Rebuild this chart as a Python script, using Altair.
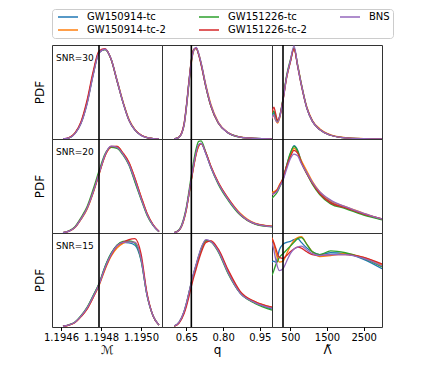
import altair as alt
import pandas as pd

SERIES = ["GW150914-tc", "GW150914-tc-2", "GW151226-tc", "GW151226-tc-2", "BNS"]
LEGEND_ORDER = ["GW150914-tc", "GW151226-tc", "BNS", "GW150914-tc-2", "GW151226-tc-2"]
LEGEND_COLORS = ["#1f77b4", "#2ca02c", "#9467bd", "#ff7f0e", "#d62728"]
SNR_LABELS = ["SNR=30", "SNR=20", "SNR=15"]

MC_GRID = [1.19461, 1.19464, 1.19467, 1.19470, 1.19473, 1.19476, 1.19479, 1.19482, 1.19485,
           1.19488, 1.19491, 1.19494, 1.19497, 1.19500, 1.19503, 1.19506, 1.19509]
Q_GRID = [0.60, 0.62, 0.64, 0.65, 0.66, 0.67, 0.68, 0.69, 0.70, 0.71, 0.73, 0.75, 0.78, 0.82, 0.87, 0.93, 1.0]
LAM_GRID = [0, 50, 100, 150, 200, 300, 400, 500, 600, 700, 800, 950, 1100, 1300, 1600, 2000, 2500, 3000]

MC_DOMAIN = [1.194555, 1.195105]
Q_DOMAIN = [0.55, 1.0]
LAM_DOMAIN = [0, 3000]
MC_TICKS = [1.1946, 1.1948, 1.1950]
Q_TICKS = [0.65, 0.80, 0.95]
LAM_TICKS = [500, 1500, 2500]
MC_TRUE = 1.19479
Q_TRUE = 0.67
LAM_TRUE = 300

# SNR = 30
S30_MC_B = [0.0, 0.012, 0.06, 0.17, 0.38, 0.68, 0.92, 0.955, 0.85, 0.62, 0.39, 0.2, 0.095, 0.04, 0.014, 0.005, 0.0]
S30_MC_O = [0.0, 0.013, 0.062, 0.175, 0.39, 0.69, 0.925, 0.955, 0.855, 0.63, 0.4, 0.21, 0.1, 0.043, 0.016, 0.005, 0.0]
S30_MC_G = [0.0, 0.012, 0.06, 0.17, 0.38, 0.68, 0.92, 0.95, 0.85, 0.62, 0.39, 0.2, 0.095, 0.04, 0.014, 0.005, 0.0]
S30_MC_R = [0.0, 0.014, 0.066, 0.185, 0.41, 0.71, 0.935, 0.96, 0.85, 0.62, 0.39, 0.2, 0.097, 0.041, 0.015, 0.005, 0.0]
S30_MC_P = [0.0, 0.011, 0.058, 0.165, 0.37, 0.67, 0.915, 0.955, 0.855, 0.625, 0.39, 0.2, 0.095, 0.039, 0.014, 0.005, 0.0]

S30_Q_B = [0.0, 0.02, 0.15, 0.35, 0.6, 0.83, 0.95, 0.97, 0.9, 0.80, 0.55, 0.35, 0.17, 0.065, 0.02, 0.006, 0.002]
S30_Q_O = [0.0, 0.018, 0.14, 0.33, 0.58, 0.81, 0.94, 0.97, 0.91, 0.81, 0.57, 0.37, 0.18, 0.07, 0.022, 0.007, 0.002]
S30_Q_G = [0.0, 0.02, 0.15, 0.35, 0.6, 0.83, 0.95, 0.965, 0.9, 0.8, 0.55, 0.35, 0.17, 0.065, 0.02, 0.006, 0.002]
S30_Q_R = [0.0, 0.022, 0.16, 0.36, 0.61, 0.84, 0.955, 0.965, 0.895, 0.79, 0.55, 0.35, 0.17, 0.066, 0.02, 0.006, 0.002]
S30_Q_P = [0.0, 0.019, 0.145, 0.34, 0.59, 0.82, 0.945, 0.975, 0.91, 0.81, 0.56, 0.36, 0.175, 0.066, 0.02, 0.006, 0.002]

S30_L_B = [0.24, 0.28, 0.21, 0.18, 0.22, 0.42, 0.66, 0.82, 0.97, 0.78, 0.58, 0.33, 0.19, 0.1, 0.04, 0.012, 0.003, 0.0]
S30_L_O = [0.22, 0.25, 0.2, 0.17, 0.21, 0.41, 0.65, 0.82, 0.96, 0.79, 0.59, 0.34, 0.2, 0.11, 0.045, 0.015, 0.004, 0.0]
S30_L_G = [0.26, 0.3, 0.24, 0.19, 0.23, 0.43, 0.68, 0.84, 0.97, 0.78, 0.58, 0.33, 0.19, 0.1, 0.04, 0.012, 0.003, 0.0]
S30_L_R = [0.28, 0.34, 0.27, 0.2, 0.23, 0.42, 0.66, 0.82, 0.96, 0.77, 0.57, 0.33, 0.19, 0.1, 0.04, 0.012, 0.003, 0.0]
S30_L_P = [0.22, 0.26, 0.2, 0.18, 0.22, 0.41, 0.66, 0.83, 0.99, 0.78, 0.58, 0.33, 0.19, 0.1, 0.04, 0.012, 0.003, 0.0]

# SNR = 20
S20_MC_B = [0.004, 0.02, 0.06, 0.15, 0.26, 0.43, 0.63, 0.83, 0.915, 0.91, 0.84, 0.73, 0.55, 0.37, 0.2, 0.085, 0.015]
S20_MC_O = [0.004, 0.019, 0.058, 0.145, 0.25, 0.42, 0.62, 0.82, 0.91, 0.92, 0.85, 0.75, 0.58, 0.39, 0.21, 0.09, 0.016]
S20_MC_G = [0.005, 0.023, 0.068, 0.165, 0.28, 0.46, 0.66, 0.84, 0.91, 0.9, 0.83, 0.72, 0.54, 0.36, 0.19, 0.08, 0.014]
S20_MC_R = [0.004, 0.02, 0.06, 0.15, 0.26, 0.43, 0.63, 0.82, 0.92, 0.92, 0.85, 0.75, 0.58, 0.39, 0.21, 0.09, 0.016]
S20_MC_P = [0.004, 0.02, 0.06, 0.15, 0.26, 0.43, 0.63, 0.83, 0.925, 0.91, 0.84, 0.73, 0.56, 0.37, 0.2, 0.085, 0.015]

S20_Q_B = [0.003, 0.03, 0.15, 0.26, 0.41, 0.57, 0.72, 0.85, 0.93, 0.95, 0.84, 0.70, 0.53, 0.36, 0.2, 0.1, 0.07]
S20_Q_O = [0.003, 0.028, 0.14, 0.25, 0.4, 0.56, 0.71, 0.84, 0.92, 0.95, 0.85, 0.71, 0.54, 0.37, 0.21, 0.105, 0.072]
S20_Q_G = [0.004, 0.035, 0.165, 0.28, 0.44, 0.61, 0.77, 0.9, 0.975, 0.98, 0.85, 0.70, 0.52, 0.35, 0.19, 0.095, 0.065]
S20_Q_R = [0.003, 0.03, 0.15, 0.26, 0.41, 0.57, 0.72, 0.85, 0.93, 0.95, 0.85, 0.71, 0.54, 0.37, 0.2, 0.1, 0.07]
S20_Q_P = [0.003, 0.031, 0.152, 0.265, 0.415, 0.58, 0.73, 0.86, 0.94, 0.955, 0.84, 0.70, 0.53, 0.36, 0.2, 0.1, 0.068]

S20_L_B = [0.42, 0.43, 0.44, 0.46, 0.5, 0.58, 0.72, 0.84, 0.93, 0.88, 0.76, 0.64, 0.53, 0.42, 0.33, 0.27, 0.2, 0.145]
S20_L_O = [0.43, 0.44, 0.45, 0.47, 0.51, 0.58, 0.71, 0.82, 0.9, 0.86, 0.77, 0.66, 0.55, 0.44, 0.34, 0.28, 0.21, 0.15]
S20_L_G = [0.37, 0.39, 0.41, 0.44, 0.48, 0.57, 0.72, 0.85, 0.92, 0.87, 0.75, 0.63, 0.52, 0.41, 0.31, 0.26, 0.19, 0.14]
S20_L_R = [0.41, 0.42, 0.44, 0.46, 0.5, 0.58, 0.71, 0.81, 0.88, 0.85, 0.75, 0.63, 0.53, 0.42, 0.32, 0.27, 0.2, 0.15]
S20_L_P = [0.41, 0.42, 0.43, 0.45, 0.49, 0.56, 0.68, 0.79, 0.84, 0.82, 0.74, 0.64, 0.54, 0.44, 0.35, 0.28, 0.21, 0.15]

# SNR = 15
S15_MC_B = [0.008, 0.022, 0.05, 0.115, 0.2, 0.33, 0.46, 0.64, 0.78, 0.87, 0.9, 0.895, 0.87, 0.71, 0.34, 0.12, 0.02]
S15_MC_O = [0.008, 0.021, 0.048, 0.11, 0.19, 0.31, 0.44, 0.61, 0.75, 0.84, 0.89, 0.91, 0.9, 0.74, 0.35, 0.12, 0.02]
S15_MC_G = [0.009, 0.024, 0.053, 0.12, 0.21, 0.33, 0.46, 0.64, 0.78, 0.87, 0.91, 0.915, 0.89, 0.72, 0.34, 0.12, 0.02]
S15_MC_R = [0.008, 0.021, 0.048, 0.11, 0.19, 0.31, 0.45, 0.62, 0.76, 0.86, 0.9, 0.93, 0.94, 0.78, 0.36, 0.12, 0.02]
S15_MC_P = [0.008, 0.022, 0.05, 0.115, 0.2, 0.32, 0.45, 0.63, 0.77, 0.865, 0.9, 0.905, 0.9, 0.73, 0.34, 0.12, 0.02]

S15_Q_B = [0.01, 0.05, 0.16, 0.25, 0.36, 0.47, 0.57, 0.66, 0.75, 0.83, 0.92, 0.91, 0.81, 0.58, 0.36, 0.26, 0.19]
S15_Q_O = [0.01, 0.048, 0.155, 0.24, 0.35, 0.46, 0.56, 0.65, 0.74, 0.82, 0.91, 0.915, 0.82, 0.6, 0.37, 0.27, 0.21]
S15_Q_G = [0.01, 0.05, 0.16, 0.25, 0.36, 0.47, 0.57, 0.66, 0.75, 0.83, 0.92, 0.905, 0.8, 0.57, 0.36, 0.25, 0.18]
S15_Q_R = [0.008, 0.042, 0.14, 0.22, 0.32, 0.43, 0.53, 0.62, 0.71, 0.79, 0.9, 0.915, 0.83, 0.61, 0.38, 0.27, 0.21]
S15_Q_P = [0.011, 0.052, 0.165, 0.255, 0.365, 0.48, 0.58, 0.67, 0.76, 0.84, 0.93, 0.91, 0.81, 0.58, 0.36, 0.26, 0.2]

S15_L_B = [0.69, 0.70, 0.69, 0.74, 0.82, 0.88, 0.9, 0.91, 0.93, 0.94, 0.9, 0.84, 0.8, 0.77, 0.79, 0.78, 0.72, 0.62]
S15_L_O = [0.95, 0.88, 0.8, 0.73, 0.69, 0.7, 0.78, 0.86, 0.92, 0.95, 0.96, 0.88, 0.8, 0.75, 0.76, 0.78, 0.74, 0.66]
S15_L_G = [0.55, 0.6, 0.66, 0.7, 0.74, 0.78, 0.82, 0.86, 0.9, 0.94, 0.95, 0.88, 0.8, 0.77, 0.81, 0.79, 0.73, 0.64]
S15_L_R = [0.94, 0.9, 0.84, 0.78, 0.74, 0.73, 0.76, 0.8, 0.83, 0.85, 0.84, 0.8, 0.77, 0.76, 0.77, 0.77, 0.74, 0.67]
S15_L_P = [0.9, 0.82, 0.72, 0.64, 0.6, 0.62, 0.7, 0.78, 0.83, 0.85, 0.86, 0.82, 0.78, 0.76, 0.77, 0.77, 0.73, 0.65]

GRIDS = [MC_GRID, Q_GRID, LAM_GRID]
DOMAINS = [MC_DOMAIN, Q_DOMAIN, LAM_DOMAIN]
TICKS = [MC_TICKS, Q_TICKS, LAM_TICKS]
FORMATS = [".4f", ".2f", "d"]
TITLES = ["\u2133", "q", "\u039b\u0303"]
TRUTHS = [MC_TRUE, Q_TRUE, LAM_TRUE]
PANELS = [
    [[S30_MC_B, S30_MC_O, S30_MC_G, S30_MC_R, S30_MC_P],
     [S30_Q_B, S30_Q_O, S30_Q_G, S30_Q_R, S30_Q_P],
     [S30_L_B, S30_L_O, S30_L_G, S30_L_R, S30_L_P]],
    [[S20_MC_B, S20_MC_O, S20_MC_G, S20_MC_R, S20_MC_P],
     [S20_Q_B, S20_Q_O, S20_Q_G, S20_Q_R, S20_Q_P],
     [S20_L_B, S20_L_O, S20_L_G, S20_L_R, S20_L_P]],
    [[S15_MC_B, S15_MC_O, S15_MC_G, S15_MC_R, S15_MC_P],
     [S15_Q_B, S15_Q_O, S15_Q_G, S15_Q_R, S15_Q_P],
     [S15_L_B, S15_L_O, S15_L_G, S15_L_R, S15_L_P]],
]

FONT = "DejaVu Sans"


def panel(row, col):
    grid = GRIDS[col]
    recs = []
    for order, (name, ys) in enumerate(zip(SERIES, PANELS[row][col])):
        for xv, yv in zip(grid, ys):
            recs.append({"series": name, "ord": order, "x": xv, "y": yv})
    df = pd.DataFrame(recs)
    bottom = row == 2
    left = col == 0
    if bottom:
        xaxis = alt.Axis(values=TICKS[col], format=FORMATS[col], title=TITLES[col],
                         grid=False, domain=False, labelFlush=False)
    else:
        xaxis = None
    if left:
        yaxis = alt.Axis(title="PDF", labels=False, ticks=False, domain=False, grid=False,
                         titlePadding=6)
    else:
        yaxis = None
    xenc = alt.X("x:Q", scale=alt.Scale(domain=DOMAINS[col], nice=False, zero=False), axis=xaxis)
    lines = alt.Chart(df).mark_line(interpolate="monotone", strokeWidth=1.3, clip=True).encode(
        x=xenc,
        y=alt.Y("y:Q", scale=alt.Scale(domain=[0, 1], nice=False), axis=yaxis),
        color=alt.Color("series:N", scale=alt.Scale(domain=LEGEND_ORDER, range=LEGEND_COLORS),
                        legend=alt.Legend(title=None)),
        order="ord:Q",
    )
    truth = alt.Chart(pd.DataFrame({"x": [TRUTHS[col]]})).mark_rule(
        color="black", strokeWidth=1.6).encode(x=xenc)
    layers = [lines, truth]
    if left:
        txt = alt.Chart(pd.DataFrame({"t": [SNR_LABELS[row]]})).mark_text(
            align="left", baseline="middle", fontSize=9, font=FONT, color="black"
        ).encode(x=alt.value(4), y=alt.value(13), text="t:N")
        layers.append(txt)
    return alt.layer(*layers).properties(width=110, height=94)


charts = [panel(r, c) for r in range(3) for c in range(3)]

chart = alt.concat(*charts, columns=3, spacing=0, bounds="flush").properties(
    padding={"left": 24, "top": 0, "right": 5, "bottom": 5}
).configure_view(
    stroke="#333", strokeWidth=1
).configure_axis(
    labelFont=FONT, titleFont=FONT, labelColor="black", titleColor="black",
    tickColor="black", labelFontSize=10, titleFontSize=12, tickSize=3.5,
    labelPadding=2, titleFontWeight="normal", titlePadding=2
).configure_legend(
    orient="top", columns=3, symbolType="M-1,0H9", symbolSize=16, symbolStrokeWidth=1.5,
    labelFont=FONT, labelFontSize=10, labelColor="black", columnPadding=30, rowPadding=3,
    padding=3, strokeColor="#cccccc", cornerRadius=3, offset=5, labelOffset=22,
    fillColor="white"
)

chart.save("out.html", embed_options={"renderer": "svg", "actions": False})
